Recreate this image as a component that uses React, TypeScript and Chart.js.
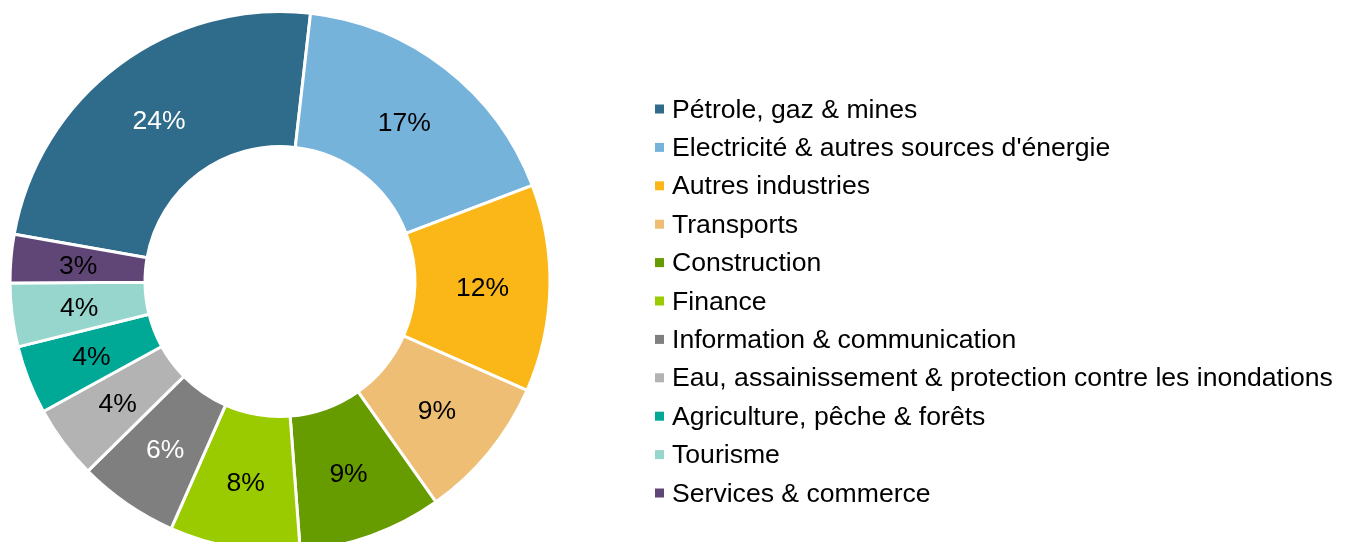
import React, { useEffect, useRef } from "react";
import { Chart, registerables } from "chart.js";

Chart.register(...registerables);

const categories = [
  "Pétrole, gaz & mines",
  "Electricité & autres sources d'énergie",
  "Autres industries",
  "Transports",
  "Construction",
  "Finance",
  "Information & communication",
  "Eau, assainissement & protection contre les inondations",
  "Agriculture, pêche & forêts",
  "Tourisme",
  "Services & commerce",
];

const shares = [24.0, 17.4, 12.4, 8.6, 8.6, 7.8, 6.0, 4.4, 4.1, 3.8, 2.9];

const sliceColors = [
  "#2F6B8A",
  "#76B3DB",
  "#FBB717",
  "#EDBE74",
  "#669C00",
  "#9ACB00",
  "#7F7F7F",
  "#B3B3B3",
  "#00A996",
  "#97D6CC",
  "#604676",
];

const labelColors = [
  "#FFFFFF",
  "#000000",
  "#000000",
  "#000000",
  "#000000",
  "#000000",
  "#FFFFFF",
  "#000000",
  "#000000",
  "#000000",
  "#000000",
];

const FONT = '"Liberation Sans", Arial, sans-serif';
const LABEL_SIZE = 26.5;
const LEGEND_SIZE = 26.6;

const sliceLabels = {
  id: "sliceLabels",
  afterDatasetsDraw(chart: any) {
    const ctx = chart.ctx;
    const meta = chart.getDatasetMeta(0);
    const data = chart.data.datasets[0].data as number[];
    const total = data.reduce((a, b) => a + b, 0);
    ctx.save();
    ctx.font = `${LABEL_SIZE}px ${FONT}`;
    ctx.textAlign = "center";
    ctx.textBaseline = "alphabetic";
    meta.data.forEach((arc: any, i: number) => {
      const p = arc.getCenterPoint();
      ctx.fillStyle = labelColors[i];
      ctx.fillText(
        `${Math.round((data[i] / total) * 100)}%`,
        p.x,
        p.y + LABEL_SIZE * 0.358
      );
    });
    ctx.restore();
  },
};

const legendBox = {
  id: "legendBox",
  afterDraw(chart: any) {
    const ctx = chart.ctx;
    const x0 = 655;
    const y0 = 108;
    const step = 38.4;
    const labels = chart.data.labels as string[];
    const bg = chart.data.datasets[0].backgroundColor as string[];
    ctx.save();
    ctx.font = `${LEGEND_SIZE}px ${FONT}`;
    ctx.textAlign = "left";
    ctx.textBaseline = "alphabetic";
    labels.forEach((lab, i) => {
      const cy = y0 + i * step;
      ctx.fillStyle = bg[i];
      ctx.fillRect(x0, cy - 3.5, 9, 9);
      ctx.fillStyle = "#000000";
      ctx.fillText(lab, 672, cy + LEGEND_SIZE * 0.358);
    });
    ctx.restore();
  },
};

export default function App() {
  const ref = useRef<HTMLCanvasElement | null>(null);

  useEffect(() => {
    if (!ref.current) return;
    const chart = new Chart(ref.current, {
      type: "doughnut",
      data: {
        labels: categories,
        datasets: [
          {
            data: shares,
            backgroundColor: sliceColors,
            borderColor: "#FFFFFF",
            borderWidth: 3,
          },
        ],
      },
      options: {
        responsive: false,
        animation: false,
        devicePixelRatio: 1,
        rotation: -79.9,
        cutout: "50%",
        layout: {
          padding: { left: 8.5, top: 10, right: 798.5, bottom: 7 },
        },
        plugins: {
          legend: { display: false },
          tooltip: { enabled: false },
        },
      },
      plugins: [sliceLabels, legendBox],
    });
    return () => chart.destroy();
  }, []);

  return (
    <div
      style={{
        position: "absolute",
        left: 0,
        top: 0,
        width: 1350,
        height: 542,
        overflow: "hidden",
        background: "#FFFFFF",
      }}
    >
      <canvas ref={ref} width={1350} height={560} style={{ display: "block" }} />
    </div>
  );
}
